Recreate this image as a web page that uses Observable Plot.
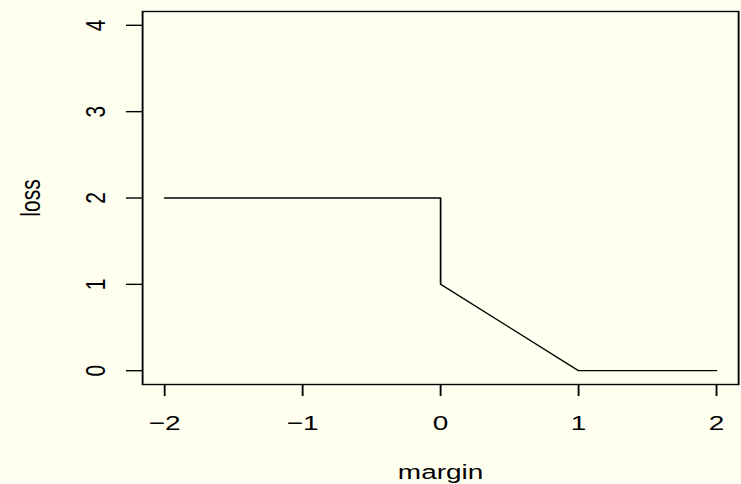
<!DOCTYPE html>
<html>
<head>
<meta charset="utf-8">
<script src="https://cdn.jsdelivr.net/npm/d3@7"></script>
<script src="https://cdn.jsdelivr.net/npm/@observablehq/plot@0.6"></script>
<style>
  html, body { margin: 0; padding: 0; background: #fffff0; }
  #chart { width: 741px; height: 484px; overflow: hidden; }
</style>
</head>
<body>
<div id="chart"></div>
<script>
// Data: loss as a function of margin
const margin = [-2, 0, 0, 1, 2];
const loss   = [2, 2, 1, 0, 0];
const xTicks = [-2, -1, 0, 1, 2];
const yTicks = [0, 1, 2, 3, 4];
const xLabel = "margin";
const yLabel = "loss";

const data = margin.map((m, i) => ({margin: m, loss: loss[i]}));

const W0 = 556;   // drawing width before horizontal stretch
const H = 484;
const fmt = d3.format("d");
const font = "'Liberation Sans', Arial, Helvetica, sans-serif";

const svg = Plot.plot({
  width: W0,
  height: H,
  marginLeft: 106.5,
  marginRight: 2.3,
  marginTop: 11,
  marginBottom: 100,
  style: {background: "#fffff0", fontSize: "21px", fontFamily: font, color: "black", overflow: "visible"},
  x: {domain: [-2.16, 2.16], axis: null},
  y: {domain: [-0.16, 4.16], axis: null},
  marks: [
    Plot.frame({stroke: "black", strokeWidth: 1.4}),
    Plot.axisX({ticks: xTicks, tickSize: 12, fill: "none", stroke: "black", strokeWidth: 1.4}),
    Plot.axisY({ticks: yTicks, tickSize: 12, fill: "none", stroke: "black", strokeWidth: 1.4}),
    Plot.text(xTicks, {x: d => d, text: d => fmt(d), frameAnchor: "bottom", dy: 38.6, lineAnchor: "middle", textAnchor: "middle", fill: "black"}),
    Plot.text(yTicks, {y: d => d, text: d => fmt(d), frameAnchor: "left", dx: -35.2, rotate: -90, lineAnchor: "middle", textAnchor: "middle", fill: "black"}),
    Plot.text([xLabel], {text: d => d, frameAnchor: "bottom", dy: 87.6, lineAnchor: "middle", textAnchor: "middle", fill: "black"}),
    Plot.text([yLabel], {text: d => d, frameAnchor: "left", dx: -83.7, rotate: -90, lineAnchor: "middle", textAnchor: "middle", fill: "black"}),
    Plot.line(data, {x: "margin", y: "loss", stroke: "black", strokeWidth: 1.3})
  ]
});

svg.setAttribute("width", 741);
svg.setAttribute("height", H);
svg.setAttribute("preserveAspectRatio", "none");
svg.style.width = "741px";
svg.style.height = H + "px";
svg.style.maxWidth = "none";
document.getElementById("chart").appendChild(svg);
</script>
</body>
</html>
